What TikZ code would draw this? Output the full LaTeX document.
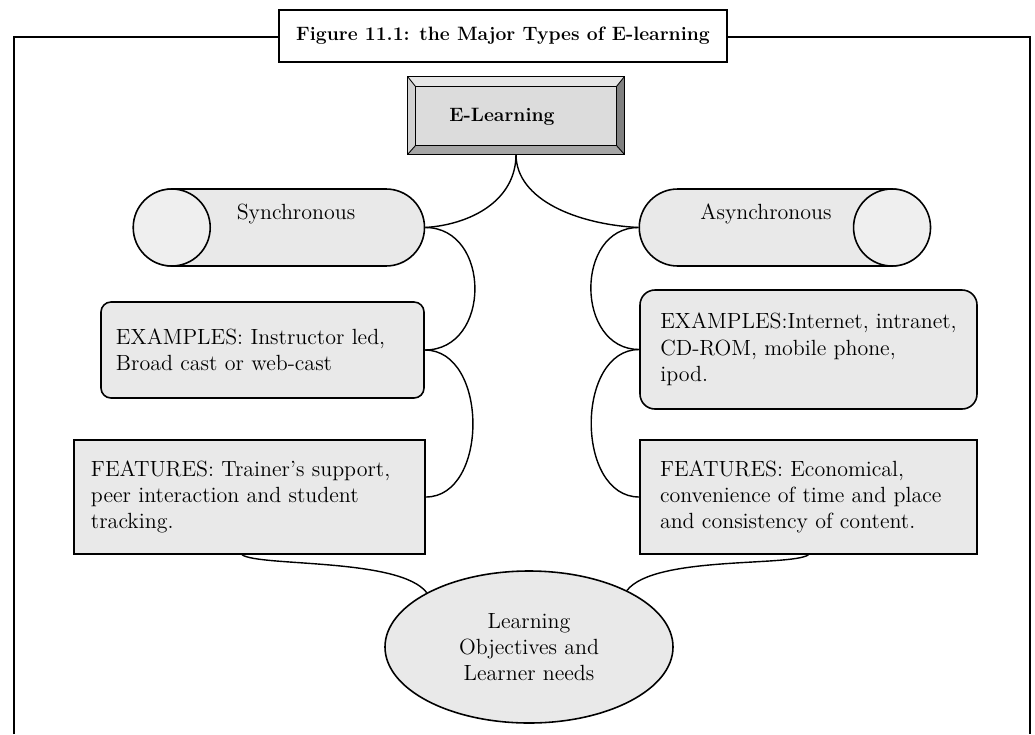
\documentclass[tikz,border=0pt]{standalone}
\usepackage{tikz}
\usetikzlibrary{shapes.geometric,shapes.misc}
\definecolor{boxG}{HTML}{E9E9E9}
\definecolor{faceG}{HTML}{EFEFEF}
\definecolor{keyG}{HTML}{DCDCDC}
\definecolor{bevLt}{HTML}{E6E6E6}
\definecolor{bevSd}{HTML}{D2D2D2}
\definecolor{bevMd}{HTML}{A6A6A6}
\definecolor{bevDk}{HTML}{808080}
\tikzset{
  txt/.style={font=\fontsize{12.5}{15}\selectfont},
  hd/.style={font=\fontsize{11}{13}\selectfont\bfseries},
  tube/.style={rounded rectangle,draw,line width=0.9pt,fill=boxG,minimum width=58.1mm,minimum height=15.4mm,inner sep=0pt},
  tubeface/.style={draw,line width=0.9pt,fill=faceG},
  roundbox/.style={txt,draw,line width=0.9pt,fill=boxG,align=left,inner ysep=0pt},
  flatbox/.style={txt,draw,line width=0.9pt,fill=boxG,align=left,inner ysep=0pt,minimum height=22.8mm},
  link/.style={line width=0.8pt}
}
\begin{document}
\begin{tikzpicture}[x=0.2mm,y=-0.2mm]
  \useasboundingbox (0,0) rectangle (1035,734);
  % frame and caption
  \draw[line width=1.1pt] (14,734) -- (14,37) -- (1030,37) -- (1030,734);
  \node[hd,draw,line width=1.1pt,fill=white,minimum width=89.6mm,minimum height=10.4mm] (cap) at (503,36) {Figure 11.1: the Major Types of E-learning};
  % e-learning key
  \node[minimum width=43.2mm,minimum height=15.4mm,inner sep=0pt,fill=keyG] (el) at (516,115.5) {};
  \fill[bevLt] (el.north west) -- (el.north east) -- ([shift={(-1.6mm,-2mm)}]el.north east) -- ([shift={(1.6mm,-2mm)}]el.north west) -- cycle;
  \fill[bevSd] (el.north west) -- ([shift={(1.6mm,-2mm)}]el.north west) -- ([shift={(1.6mm,1.8mm)}]el.south west) -- (el.south west) -- cycle;
  \fill[bevDk] (el.north east) -- ([shift={(-1.6mm,-2mm)}]el.north east) -- ([shift={(-1.6mm,1.8mm)}]el.south east) -- (el.south east) -- cycle;
  \fill[bevMd] (el.south west) -- ([shift={(1.6mm,1.8mm)}]el.south west) -- ([shift={(-1.6mm,1.8mm)}]el.south east) -- (el.south east) -- cycle;
  \draw[line width=0.5pt] ([shift={(1.6mm,-2mm)}]el.north west) rectangle ([shift={(-1.6mm,1.8mm)}]el.south east);
  \draw[line width=0.5pt] (el.north west) -- ([shift={(1.6mm,-2mm)}]el.north west) (el.north east) -- ([shift={(-1.6mm,-2mm)}]el.north east)
    (el.south west) -- ([shift={(1.6mm,1.8mm)}]el.south west) (el.south east) -- ([shift={(-1.6mm,1.8mm)}]el.south east);
  \draw[line width=0.9pt] (el.north west) rectangle (el.south east);
  \node[hd] (eltxt) at (502,117) {E-Learning};
  % synchronous side
  \node[tube] (syn) at (279.25,227.5) {};
  \draw[tubeface] ([xshift=7.7mm]syn.west) circle (7.7mm);
  \node[txt] (syntxt) at (296,214) {Synchronous};
  \node[roundbox,rounded corners=2mm,text width=58.6mm,inner xsep=3mm,minimum height=19.2mm] (exL) at (262.5,350) {EXAMPLES: Instructor led,\\Broad cast or web-cast};
  \node[flatbox,text width=63.4mm,inner xsep=3.4mm] (feL) at (249.5,497) {FEATURES: Trainer's support,\\peer interaction and student\\tracking.};
  % asynchronous side
  \node[tube] (asy) at (784.5,227.5) {};
  \draw[tubeface] ([xshift=-7.7mm]asy.east) circle (7.7mm);
  \node[txt] (asytxt) at (766,214) {Asynchronous};
  \node[roundbox,rounded corners=3mm,inner xsep=2mm,minimum width=67.4mm,minimum height=23.8mm] (exR) at (808.5,349.5) {EXAMPLES:Internet, intranet,\\CD-ROM, mobile phone,\\ipod.};
  \node[flatbox,text width=59.4mm,inner xsep=4mm] (feR) at (808.5,497) {FEATURES: Economical,\\convenience of time and place\\and consistency of content.};
  % objectives
  \node[ellipse,txt,draw,line width=0.9pt,fill=boxG,align=center,minimum width=57.6mm,minimum height=30.4mm,inner sep=0pt] (lo) at (529,647) {Learning\\Objectives and\\Learner needs};
  % links
  \draw[link] (el.south) .. controls +(0,46) and +(46,-3) .. (syn.east);
  \draw[link] (el.south) .. controls +(0,46) and +(-60,-3) .. (asy.west);
  \draw[link] (syn.east) .. controls +(66,0) and +(67,0) .. (exL.east);
  \draw[link] (exL.east) .. controls +(64,0) and +(63,0) .. (feL.east);
  \draw[link] (asy.west) .. controls +(-64,0) and +(-64,0) .. (exR.west);
  \draw[link] (exR.west) .. controls +(-64,0) and +(-64,0) .. (feR.west);
  \draw[link] ([xshift=-1.5mm]feL.south) .. controls +(18,12) and +(-27,-35) .. (lo.152);
  \draw[link] (feR.south) .. controls +(-18,12) and +(27,-35) .. (lo.30);
\end{tikzpicture}
\end{document}
